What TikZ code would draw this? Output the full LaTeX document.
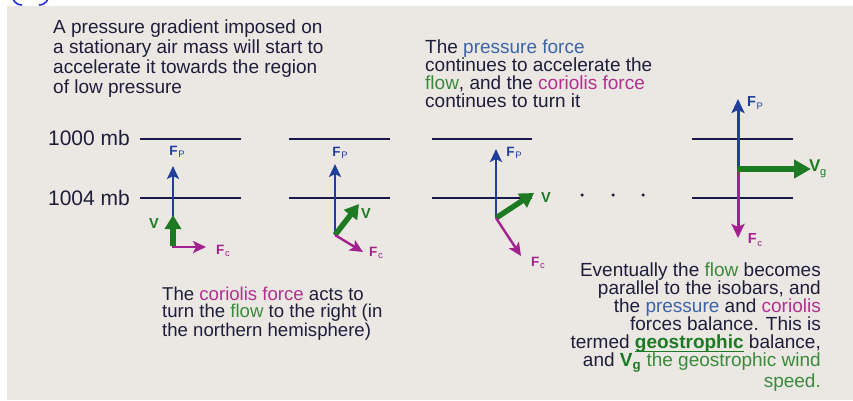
\documentclass[tikz,border=0pt]{standalone}
\usepackage{fontspec}
\setmainfont{Liberation Sans}
\usetikzlibrary{arrows.meta}
\definecolor{bg}{HTML}{EBE8E3}
\definecolor{ink}{HTML}{1E1E3C}
\definecolor{pblue}{HTML}{1F3F9A}
\definecolor{vgreen}{HTML}{1C7A22}
\definecolor{cmag}{HTML}{A3208F}
\definecolor{tblue}{HTML}{3D64A8}
\definecolor{tgreen}{HTML}{3B8A3B}
\definecolor{tmag}{HTML}{B3308F}
\definecolor{isocol}{HTML}{1A1A4A}
\definecolor{tagblue}{HTML}{2233DD}
\newcommand\lblFP{{\bfseries F}\kern0.6pt{\fontsize{9.5}{9.5}\selectfont\raisebox{-2.5pt}{P}}}
\newcommand\lblFC{{\bfseries F}\kern0.8pt{\fontsize{9.5}{9.5}\selectfont\raisebox{-2.5pt}{c}}}
\newcommand\ulword[1]{\setbox0\hbox{#1}\rlap{\rule[-3pt]{\wd0}{1.3pt}}\box0}
\begin{document}
\begin{tikzpicture}[x=1pt,y=-1pt,
  isobar/.style={draw=isocol,line width=1.4pt},
  fpress/.style={draw=pblue,line width=2.4pt,-{Stealth[length=13pt,width=12pt,inset=3pt]}},
  fcor/.style={draw=cmag,line width=2.4pt,-{Stealth[length=13pt,width=12pt,inset=3pt]}},
  vel/.style={draw=vgreen,line width=5.5pt,-{Triangle[length=14pt,width=16pt]}},
  bodytext/.style={inner sep=0pt,text=ink,font=\fontsize{19}{18}\selectfont},
  mblabel/.style={inner sep=0pt,text=ink,font=\fontsize{21}{21}\selectfont,anchor=east},
  plbl/.style={inner sep=0pt,text=pblue,font=\fontsize{13.5}{13.5}\selectfont},
  clbl/.style={inner sep=0pt,text=cmag,font=\fontsize{13.5}{13.5}\selectfont},
  vlbl/.style={inner sep=0pt,text=vgreen,font=\fontsize{14.5}{14.5}\selectfont\bfseries},
  dotmark/.style={fill=ink,circle,inner sep=0pt,minimum size=3.5pt}
]
\useasboundingbox (0,0) rectangle (853,400);
\fill[white] (0,0) rectangle (853,400);
\fill[bg] (7,6) rectangle (853,400);
% partial tag at top-left
\draw[tagblue,line width=1.6pt] (13,-1) .. controls (15,3) and (18,5) .. (22,5);
\draw[tagblue,line width=1.6pt] (48,-1) .. controls (46,3) and (43,5) .. (39,5);

% text blocks
\node[bodytext,anchor=north west,align=left,font=\fontsize{19}{20}\selectfont] (t1) at (53,20)
 {A pressure gradient imposed on\\a stationary air mass will start to\\accelerate it towards the region\\of low pressure};
\node[bodytext,anchor=north west,align=left] (t2) at (425,40)
 {The \textcolor{tblue}{pressure force}\\continues to accelerate the\\\textcolor{tgreen}{flow}, and the \textcolor{tmag}{coriolis force}\\continues to turn it};
\node[bodytext,anchor=north west,align=left,font=\fontsize{18.6}{17}\selectfont] (t3) at (162,287)
 {The \textcolor{tmag}{coriolis force} acts to\\turn the \textcolor{tgreen}{flow} to the right (in\\the northern hemisphere)};
\node[bodytext,anchor=north east,align=right] (t4) at (821,263)
 {Eventually the \textcolor{tgreen}{flow} becomes\\parallel to the isobars, and\\the \textcolor{tblue}{pressure} and \textcolor{tmag}{coriolis}\\forces balance. This is\\termed \textcolor{vgreen}{\ulword{\bfseries geostrophic}} balance,\\and \textcolor{vgreen}{\bfseries V\textsubscript{g}} \textcolor{tgreen}{the geostrophic wind}\\\textcolor{tgreen}{speed.}};

% isobar labels
\node[mblabel] (m1000) at (130,137.5) {1000 mb};
\node[mblabel] (m1004) at (130,197.5) {1004 mb};

% isobars
\foreach \xa/\xb/\n in {140/241/a,289/390/b,432/532/c,692/793/d}{
  \coordinate (u\n l) at (\xa,139); \coordinate (u\n r) at (\xb,139);
  \coordinate (w\n l) at (\xa,198); \coordinate (w\n r) at (\xb,198);
  \draw[isobar] (u\n l) -- (u\n r);
  \draw[isobar] (w\n l) -- (w\n r);
}

% panel 1
\coordinate (o1) at (173,247);
\coordinate (p1) at (173,166);
\coordinate (v1) at (173,215);
\coordinate (c1) at (206,247);
\draw[fpress] (o1) -- (p1);
\draw[vel] ([yshift=1pt]o1) -- (v1);
\draw[fcor] ([xshift=-1pt]o1) -- (c1);
\node[plbl] (fp1) at (177,152) {\lblFP};
\node[vlbl] (vv1) at (154,224) {V};
\node[clbl] (fc1) at (223,251) {\lblFC};

% panel 2
\coordinate (o2) at (335,235);
\coordinate (p2) at (335,164);
\coordinate (v2) at (359,204);
\coordinate (c2) at (363,252);
\draw[fpress] (o2) -- (p2);
\draw[vel] (o2) -- (v2);
\draw[fcor] (o2) -- (c2);
\node[plbl] (fp2) at (340,153) {\lblFP};
\node[vlbl] (vv2) at (366,214) {V};
\node[clbl] (fc2) at (376,253) {\lblFC};

% panel 3
\coordinate (o3) at (496,218);
\coordinate (p3) at (496,149);
\coordinate (v3) at (534,193);
\coordinate (c3) at (521,256);
\draw[fpress] (o3) -- (p3);
\draw[vel] (o3) -- (v3);
\draw[fcor] (o3) -- (c3);
\node[plbl] (fp3) at (514,153) {\lblFP};
\node[vlbl] (vv3) at (546,198) {V};
\node[clbl] (fc3) at (538,263) {\lblFC};

% dots
\node[dotmark] (d1) at (582,195) {};
\node[dotmark] (d2) at (613,195) {};
\node[dotmark] (d3) at (643,195) {};

% panel 4
\coordinate (o4) at (738,169);
\coordinate (p4) at (738,99);
\coordinate (v4) at (811,169);
\coordinate (c4) at (738,238);
\draw[fpress,line width=3pt,-{Stealth[length=14pt,width=13pt,inset=3pt]}] (o4) -- (p4);
\draw[fcor,line width=3pt,-{Stealth[length=14pt,width=13pt,inset=3pt]}] (o4) -- (c4);
\draw[vel,line width=6pt,-{Triangle[length=17pt,width=18pt]}] (o4) -- (v4);
\node[plbl,font=\fontsize{14.5}{14.5}\selectfont] (fp4) at (755,103) {\lblFP};
\node[vlbl,anchor=west,font=\fontsize{17}{17}\selectfont\bfseries] (vg4) at (809,169) {V\kern-0.5pt{\fontsize{11}{11}\selectfont\mdseries\raisebox{-3.5pt}{g}}};
\node[clbl,font=\fontsize{14.5}{14.5}\selectfont] (fc4) at (755,240) {\lblFC};
\end{tikzpicture}
\end{document}
